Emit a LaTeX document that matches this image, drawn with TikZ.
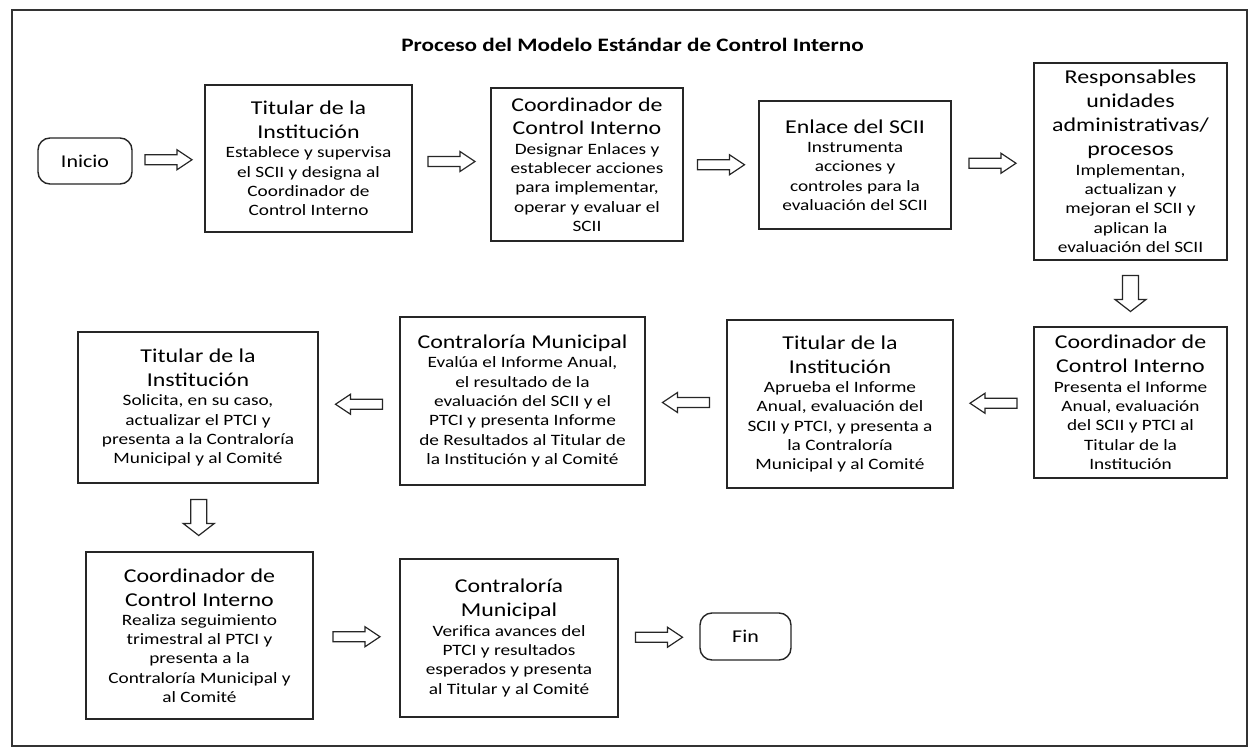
\documentclass[tikz,border=0pt]{standalone}
\usepackage{fontspec}
\setmainfont{Carlito}[FakeStretch=1.22]
\usetikzlibrary{calc}
\newcommand{\hd}{\fontsize{19.6}{24}\selectfont}
\newcommand{\bd}{\fontsize{15.8}{19.3}\selectfont}
\newcommand{\boxtext}[1]{\makebox[0pt]{\parbox{330pt}{\centering #1\par}}}
\tikzset{
  box/.style={draw=black!85, line width=1.5pt, inner sep=0pt, rectangle},
  term/.style={draw=black!85, line width=1.4pt, inner sep=0pt, rounded corners=12pt, font=\fontsize{18}{20}\selectfont},
  arr/.style={draw=black!85, line width=1.2pt, line join=miter, fill=white},
  frame/.style={draw=black!80, line width=1.6pt},
}
% right-pointing hollow arrow between #1 (left) and #2 (right)
\newcommand{\rarr}[2]{%
  \coordinate (m#1#2) at ($(#1.east)!0.5!(#2.west)$);
  \draw[arr] ($(m#1#2)+(-23.5,-5)$) -- ++(32,0) -- ++(0,-5) -- ++(15,10) -- ++(-15,10) -- ++(0,-5) -- ++(-32,0) -- cycle;}
% left-pointing hollow arrow between #1 (right) and #2 (left)
\newcommand{\larr}[2]{%
  \coordinate (m#1#2) at ($(#1.west)!0.5!(#2.east)$);
  \draw[arr] ($(m#1#2)+(23.5,-5)$) -- ++(-32,0) -- ++(0,-5) -- ++(-15,10) -- ++(15,10) -- ++(0,-5) -- ++(32,0) -- cycle;}
% down-pointing hollow arrow between #1 (top) and #2 (bottom)
\newcommand{\darr}[2]{%
  \coordinate (m#1#2) at ($(#1.south)!0.5!(#2.north)$);
  \draw[arr] ($(m#1#2)+(-8,-18)$) -- ++(0,24) -- ++(-7.5,0) -- ++(15.5,12) -- ++(15.5,-12) -- ++(-7.5,0) -- ++(0,-24) -- cycle;}
\begin{document}
\begin{tikzpicture}[x=1pt,y=-1pt]
\useasboundingbox (0,0) rectangle (1251,749);
\fill[white] (0,0) rectangle (1251,749);
\draw[frame] (12,10) rectangle (1247,746);

\node[font=\fontsize{19}{23}\selectfont\bfseries] (title) at (632.5,45) {Proceso del Modelo Estándar de Control Interno};

% row 1
\node[term, minimum width=94pt, minimum height=46pt] (ini) at (85,161) {Inicio};
\node[box, minimum width=207pt, minimum height=147pt] (b1) at (308.5,158.5)
  {\boxtext{\hd Titular de la\\Institución\par\bd Establece y supervisa\\el SCII y designa al\\Coordinador de\\Control Interno}};
\node[box, minimum width=192pt, minimum height=153pt] (b2) at (587,164.5)
  {\boxtext{\hd Coordinador de\\Control Interno\par\bd Designar Enlaces y\\establecer acciones\\para implementar,\\operar y evaluar el\\SCII}};
\node[box, minimum width=192pt, minimum height=128pt] (b3) at (855,165)
  {\boxtext{\hd Enlace del SCII\par\bd Instrumenta\\acciones y\\controles para la\\evaluación del SCII}};
\node[box, minimum width=193pt, minimum height=197pt] (b4) at (1130.5,161.5)
  {\boxtext{\hd Responsables\\unidades\\administrativas/\\procesos\par\bd Implementan,\\actualizan y\\mejoran el SCII y\\aplican la\\evaluación del SCII}};

% row 2
\node[box, minimum width=193pt, minimum height=151pt] (b5) at (1130.5,402.5)
  {\boxtext{\hd Coordinador de\\Control Interno\par\bd Presenta el Informe\\Anual, evaluación\\del SCII y PTCI al\\Titular de la\\Institución}};
\node[box, minimum width=226pt, minimum height=168pt] (b6) at (840,404)
  {\boxtext{\hd Titular de la\\Institución\par\bd Aprueba el Informe\\Anual, evaluación del\\SCII y PTCI, y presenta a\\la Contraloría\\Municipal y al Comité}};
\node[box, minimum width=245pt, minimum height=168pt] (b7) at (522.5,401)
  {\boxtext{\hd Contraloría Municipal\par\bd Evalúa el Informe Anual,\\el resultado de la\\evaluación del SCII y el\\PTCI y presenta Informe\\de Resultados al Titular de\\la Institución y al Comité}};
\node[box, minimum width=240pt, minimum height=151pt] (b8) at (198,407.5)
  {\boxtext{\hd Titular de la\\Institución\par\bd Solicita, en su caso,\\actualizar el PTCI y\\presenta a la Contraloría\\Municipal y al Comité}};

% row 3
\node[box, minimum width=227pt, minimum height=167pt] (b9) at (199.5,635.5)
  {\boxtext{\hd Coordinador de\\Control Interno\par\bd Realiza seguimiento\\trimestral al PTCI y\\presenta a la\\Contraloría Municipal y\\al Comité}};
\node[box, minimum width=218pt, minimum height=158pt] (b10) at (509,638)
  {\boxtext{\hd Contraloría\\Municipal\par\bd Verifica avances del\\PTCI y resultados\\esperados y presenta\\al Titular y al Comité}};
\node[term, minimum width=91pt, minimum height=47pt] (fin) at (745.5,636.5) {Fin};

% connectors
\rarr{ini}{b1}
\rarr{b1}{b2}
\rarr{b2}{b3}
\rarr{b3}{b4}
\darr{b4}{b5}
\larr{b5}{b6}
\larr{b6}{b7}
\larr{b7}{b8}
\darr{b8}{b9}
\rarr{b9}{b10}
\rarr{b10}{fin}
\end{tikzpicture}
\end{document}
